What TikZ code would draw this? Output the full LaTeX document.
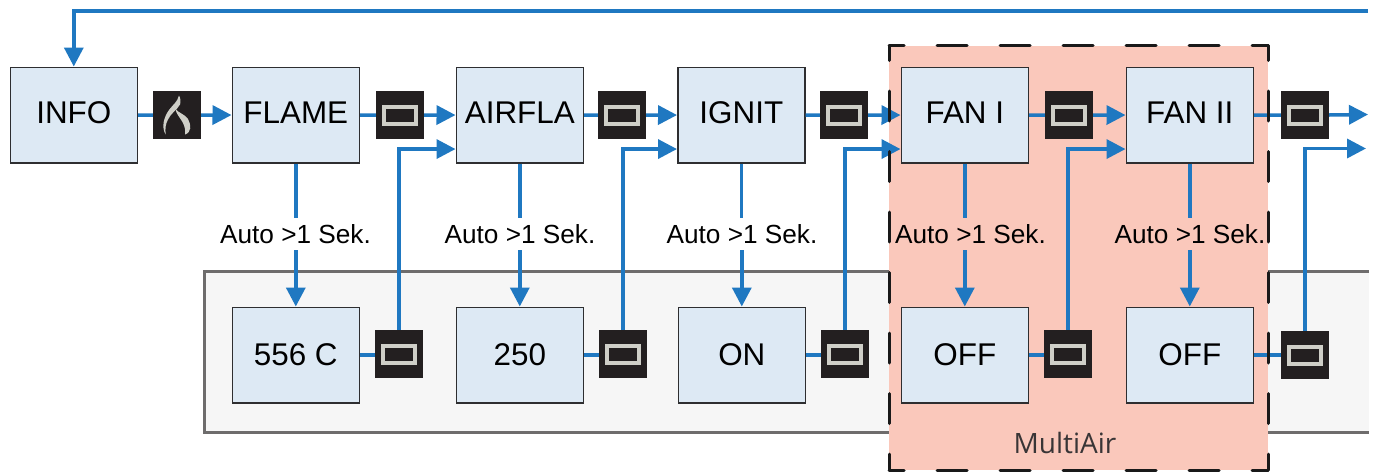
\documentclass[tikz,border=0pt]{standalone}
\usepackage{fontspec}
\setmainfont{Liberation Sans}
\newfontfamily\zonefont{Open Sans}
\usetikzlibrary{arrows.meta}
\definecolor{flowblue}{HTML}{1F78C1}
\definecolor{boxfill}{HTML}{DDE9F4}
\definecolor{boxline}{HTML}{2E2E30}
\definecolor{zonefill}{HTML}{FAC8BB}
\definecolor{panelfill}{HTML}{F6F6F6}
\definecolor{panelline}{HTML}{6E6C6C}
\definecolor{iconfill}{HTML}{231F20}
\definecolor{iconmark}{HTML}{CFCFC8}
\tikzset{
  x=1pt,y=-1pt,
  statebox/.style={draw=boxline,line width=1.6pt,fill=boxfill,minimum width=127pt,minimum height=95.5pt,inner sep=0pt,font=\fontsize{31.4}{33}\selectfont,anchor=north west,text depth=2pt,text height=22.5pt},
  topbox/.style={statebox,text depth=5pt},
  iconbox/.style={fill=iconfill,minimum width=48pt,minimum height=48pt,inner sep=0pt},
  iconframe/.style={draw=iconmark,line width=4pt},
  flow/.style={draw=flowblue,line width=3.5pt},
  flowarrow/.style={flow,-{Triangle[length=19pt,width=19pt]}},
  autolabel/.style={font=\fontsize{26.2}{28}\selectfont,minimum height=32pt,inner sep=0pt,text=black},
  zonedashh/.style={draw=black!90,line width=3pt,line cap=round,dash pattern=on 30pt off 33pt,dash phase=15pt},
  zonedashv/.style={draw=black!90,line width=3pt,line cap=round,dash pattern=on 30pt off 30.5pt,dash phase=15pt},
  flamepart/.style={fill=iconmark,draw=none}
}
\newcommand{\markframe}[1]{\draw[iconframe] ([shift={(-16,-8.5)}]#1.center) rectangle ([shift={(16,8.5)}]#1.center);}
\begin{document}
\begin{tikzpicture}
\useasboundingbox (0,0) rectangle (1379,474);
% panel
\fill[panelfill] (204,271) rectangle (1369,432);
\draw[panelline,line width=3pt] (1369,271) -- (204,271) -- (204,432) -- (1369,432);
% zone
\fill[zonefill] (889,45.5) rectangle (1268,470);
\node[font=\zonefont\fontsize{28}{30}\selectfont,text=iconfill!90] (zonelabel) at (1065,443) {MultiAir};
% boxes
\node[topbox] (info) at (9.5,66.5) {INFO};
\node[topbox] (flame) at (231.5,66.5) {FLAME};
\node[topbox] (airfla) at (455.5,66.5) {AIRFLA};
\node[topbox] (ignit) at (677,66.5) {IGNIT};
\node[topbox] (fani) at (900.5,66.5) {FAN I};
\node[topbox] (fanii) at (1125.5,66.5) {FAN II};
\node[statebox] (val1) at (231.5,306.5) {556 C};
\node[statebox] (val2) at (455.5,306.5) {250};
\node[statebox] (val3) at (677.5,306.5) {ON};
\node[statebox] (val4) at (900.5,306.5) {OFF};
\node[statebox] (val5) at (1125.5,306.5) {OFF};
% icons
\node[iconbox] (ic0) at (177,115) {};
\node[iconbox] (ic1) at (400,115) {};
\node[iconbox] (ic2) at (622,115) {};
\node[iconbox] (ic3) at (844,115) {};
\node[iconbox] (ic4) at (1069,115) {};
\node[iconbox] (ic5) at (1305,115) {};
\node[iconbox] (lo1) at (399,354) {};
\node[iconbox] (lo2) at (623,354) {};
\node[iconbox] (lo3) at (845,354) {};
\node[iconbox] (lo4) at (1068,354) {};
\node[iconbox] (lo5) at (1305,355) {};
\foreach \n in {ic1,ic2,ic3,ic4,ic5,lo1,lo2,lo3,lo4,lo5}{\markframe{\n}}
% flame glyph
\fill[flamepart] (179,95.5) .. controls (177.5,102) and (172.5,105) .. (169,110) .. controls (164,117) and (161,127) .. (165.7,134.5) .. controls (165,129) and (165.5,124) .. (168,119.5) .. controls (171,113) and (177,110) .. (180,104.5) .. controls (181,102) and (180.5,98) .. (179,95.5) -- cycle;
\fill[flamepart] (175.5,109) .. controls (176,114) and (180.5,118) .. (183,123) .. controls (185,127) and (185.5,130.5) .. (185,134.5) .. controls (191.5,132.5) and (191.5,125) .. (188,119) .. controls (184.5,114) and (178.5,113) .. (175.5,109) -- cycle;
% top row
\coordinate (loopend) at (1368,11);
\coordinate (out1) at (1368,114.5);
\coordinate (out2) at (1366,148.5);
\draw[flowarrow] (loopend) -| (info.north);
\draw[flow] (info.east) -- (ic0.west);
\draw[flowarrow] (ic0.east) -- (flame.west);
\draw[flow] (flame.east) -- (ic1.west);
\draw[flowarrow] (ic1.east) -- (airfla.west);
\draw[flow] (airfla.east) -- (ic2.west);
\draw[flowarrow] (ic2.east) -- (ignit.west);
\draw[flow] (ignit.east) -- (ic3.west);
\draw[flowarrow] (ic3.east) -- (fani.west);
\draw[flow] (fani.east) -- (ic4.west);
\draw[flowarrow] (ic4.east) -- (fanii.west);
\draw[flow] (fanii.east) -- (ic5.west);
\draw[flowarrow] (ic5.east) -- (out1);
% auto labels
\node[autolabel] (a1) at (295.5,234) {Auto >1 Sek.};
\node[autolabel] (a2) at (520,234) {Auto >1 Sek.};
\node[autolabel] (a3) at (742,234) {Auto >1 Sek.};
\node[autolabel] (a4) at (970.5,234) {Auto >1 Sek.};
\node[autolabel] (a5) at (1190,234) {Auto >1 Sek.};
\foreach \t/\l/\b in {flame/a1/val1,airfla/a2/val2,ignit/a3/val3,fani/a4/val4,fanii/a5/val5}{
  \draw[flow] (\t.south) -- (\l.north -| \t.south);
  \draw[flowarrow] (\l.south -| \b.north) -- (\b.north);
}
% lower row
\foreach \b/\i in {val1/lo1,val2/lo2,val3/lo3,val4/lo4,val5/lo5}{
  \draw[flow] (\b.east) -- (\b.east -| \i.west);
}
\draw[flowarrow] (lo1.north) |- ([yshift=-34pt]airfla.west);
\draw[flowarrow] (lo2.north) |- ([yshift=-34pt]ignit.west);
\draw[flowarrow] (lo3.north) |- ([yshift=-34pt]fani.west);
\draw[flowarrow] (lo4.north) |- ([yshift=-34pt]fanii.west);
\draw[flowarrow] (lo5.north) |- (out2);
% zone border
\draw[zonedashh] (889,45.5) -- (1268,45.5);
\draw[zonedashh] (889,470) -- (1268,470);
\draw[zonedashv] (889,45.5) -- (889,470);
\draw[zonedashv] (1268,45.5) -- (1268,470);
\end{tikzpicture}
\end{document}
